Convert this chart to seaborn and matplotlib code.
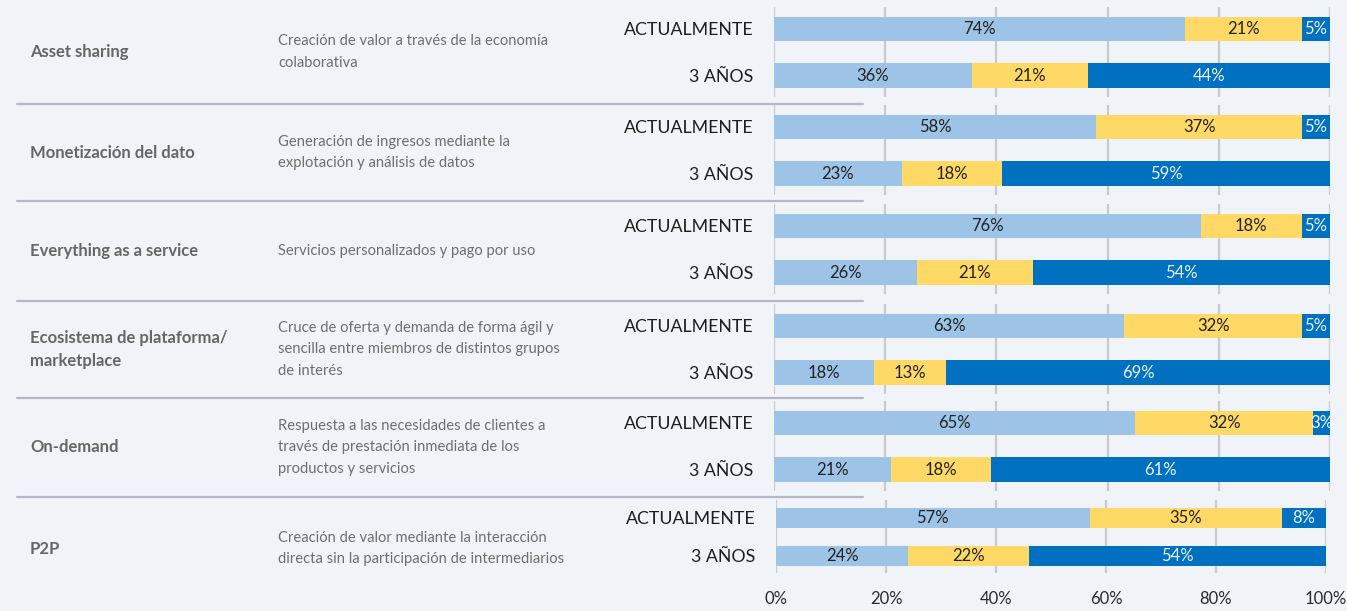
import matplotlib
matplotlib.use("Agg")
import matplotlib.pyplot as plt
from matplotlib.lines import Line2D
import seaborn as sns
import pandas as pd

# ---------------- data ----------------
categories = ["Asset sharing", "Monetización del dato", "Everything as a service",
              "Ecosistema de plataforma/\nmarketplace", "On-demand", "P2P"]
descriptions = [
    "Creación de valor a través de la economía\ncolaborativa",
    "Generación de ingresos mediante la\nexplotación y análisis de datos",
    "Servicios personalizados y pago por uso",
    "Cruce de oferta y demanda de forma ágil y\nsencilla entre miembros de distintos grupos\nde interés",
    "Respuesta a las necesidades de clientes a\ntravés de prestación inmediata de los\nproductos y servicios",
    "Creación de valor mediante la interacción\ndirecta sin la participación de intermediarios",
]
periods = ["ACTUALMENTE", "3 AÑOS"]
light_vals = [[74, 36], [58, 23], [76, 26], [63, 18], [65, 21], [57, 24]]
mid_vals = [[21, 21], [37, 18], [18, 21], [32, 13], [32, 18], [35, 22]]
dark_vals = [[5, 44], [5, 59], [5, 54], [5, 69], [3, 61], [8, 54]]
tick_values = [0, 20, 40, 60, 80, 100]
tick_labels = ["0%", "20%", "40%", "60%", "80%", "100%"]

# ---------------- style ----------------
BG = "#F0F3F8"
C_LIGHT = "#9DC3E6"
C_MID = "#FFD966"
C_DARK = "#0070C0"
GRID = "#C9CACE"
SEP = "#B5B8C4"

sns.set_theme(style="white")
plt.rcParams["font.family"] = ["Lato", "DejaVu Sans"]

W, H = 1347, 611
fig = plt.figure(figsize=(W / 100, H / 100), dpi=100, facecolor=BG)

def fy(px):
    return 1 - px / H

# axes bands in pixels: (left, right, top, bottom)
bands = [(774, 1330, 7, 97), (774, 1330, 105, 195), (774, 1330, 204, 294),
         (774, 1330, 304, 394), (774, 1330, 401, 491), (776, 1326, 500, 573)]
separators = [104, 201, 301, 398, 497]
sections = [0] + separators + [600]

for gi, (l, r, t, b) in enumerate(bands):
    ax = fig.add_axes([l / W, fy(b), (r - l) / W, (b - t) / H])
    ax.set_facecolor("none")
    lv = light_vals[gi]
    mv = mid_vals[gi]
    dv = dark_vals[gi]
    tot = [lv[i] + mv[i] + dv[i] for i in range(2)]
    ln = [lv[i] / tot[i] * 100 for i in range(2)]
    mn = [mv[i] / tot[i] * 100 for i in range(2)]
    dn = [dv[i] / tot[i] * 100 for i in range(2)]
    df = pd.DataFrame({
        "period": periods,
        "full": [ln[i] + mn[i] + dn[i] for i in range(2)],
        "lm": [ln[i] + mn[i] for i in range(2)],
        "l": ln,
    })
    for col, c in [("full", C_DARK), ("lm", C_MID), ("l", C_LIGHT)]:
        sns.barplot(data=df, x=col, y="period", color=c, saturation=1,
                    width=0.53, ax=ax, orient="h", linewidth=0, errorbar=None)
    # labels
    for i in range(2):
        segs = [(0, ln[i], lv[i], "#222222"),
                (ln[i], mn[i], mv[i], "#222222"),
                (ln[i] + mn[i], dn[i], dv[i], "#EEF3FA")]
        for start, width, val, tc in segs:
            ax.text(start + width / 2, i, f"{val}%", ha="center", va="center",
                    fontsize=12, color=tc)
    ax.set_xlim(0, 100)
    ax.set_ylim(1.46, -0.47)
    ax.set_xticks(tick_values)
    ax.xaxis.grid(True, color=GRID, lw=1.6)
    ax.set_axisbelow(True)
    for s in ax.spines.values():
        s.set_visible(False)
    ax.set_xlabel("")
    ax.set_ylabel("")
    ax.tick_params(axis="y", length=0, pad=15, labelsize=12.8, labelcolor="#1E1E1E")
    if gi == len(bands) - 1:
        ax.set_xticklabels(tick_labels)
        ax.tick_params(axis="x", length=0, pad=13, labelsize=12, labelcolor="#2A2A2A")
    else:
        ax.tick_params(axis="x", length=0, labelbottom=False)

    mid_px = (sections[gi] + sections[gi + 1]) / 2
    fig.text(30 / W, fy(mid_px), categories[gi], ha="left", va="center",
             fontsize=12, fontweight="bold", color="#666666", linespacing=1.55)
    fig.text(278 / W, fy(mid_px), descriptions[gi], ha="left", va="center",
             fontsize=10.6, color="#6E6E6E", linespacing=1.7)

for y in separators:
    fig.add_artist(Line2D([17 / W, 863 / W], [fy(y), fy(y)], color=SEP, lw=1.6))

fig.savefig("out.png", dpi=100, facecolor=BG)
